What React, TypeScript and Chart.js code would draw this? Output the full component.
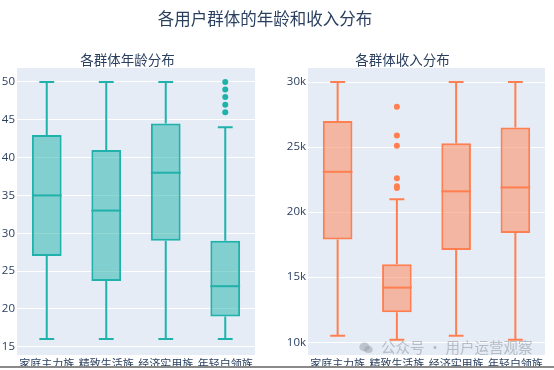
import React, { useEffect, useRef } from "react";
import { Chart, registerables } from "chart.js";

Chart.register(...registerables);

const categories = ["家庭主力族", "精致生活族", "经济实用族", "年轻白领族"];

const ageMin = [16, 16, 16, 16];
const ageQ1 = [27, 23.7, 29, 19];
const ageMedian = [35, 33, 38, 23];
const ageQ3 = [43, 41, 44.5, 29];
const ageMax = [50, 50, 50, 44];
const ageOutliers: number[][] = [[], [], [], [46, 47, 48, 49, 50]];
const ageTickValues = [15, 20, 25, 30, 35, 40, 45, 50];

const incomeMin = [10500, 10200, 10500, 10200];
const incomeQ1 = [17900, 12300, 17100, 18400];
const incomeMedian = [23100, 14200, 21600, 21900];
const incomeQ3 = [27000, 16000, 25300, 26500];
const incomeMax = [30000, 21000, 30000, 30000];
const incomeOutliers: number[][] = [[], [28100, 25900, 25100, 22600, 22000, 21850], [], []];
const incomeTickValues = [10000, 15000, 20000, 25000, 30000];

const ageRange = { min: 13.9, max: 51.85 };
const incomeRange = { min: 9020, max: 31080 };

const FONT = '"Open Sans", "Noto Sans CJK SC", sans-serif';
const TEXT = "#2a3f5f";

const boxPlugin = {
  id: "boxWhisker",
  beforeDraw(chart: any) {
    const { ctx, chartArea } = chart;
    ctx.save();
    ctx.fillStyle = "#E5ECF6";
    ctx.fillRect(chartArea.left, chartArea.top, chartArea.right - chartArea.left, chartArea.bottom - chartArea.top);
    ctx.restore();
  },
  beforeDatasetsDraw(chart: any) {
    const o = chart.options.plugins.boxWhisker;
    if (!o) return;
    const { ctx } = chart;
    const xs = chart.scales.x;
    const ys = chart.scales.y;
    const meta = chart.getDatasetMeta(0);
    ctx.save();
    ctx.strokeStyle = o.color;
    ctx.lineWidth = 2;
    o.min.forEach((_: number, i: number) => {
      const x = xs.getPixelForValue(i);
      const bw = meta.data[i].width;
      const cap = bw / 2;
      const yMin = ys.getPixelForValue(o.min[i]);
      const yMax = ys.getPixelForValue(o.max[i]);
      const yQ1 = ys.getPixelForValue(o.q1[i]);
      const yQ3 = ys.getPixelForValue(o.q3[i]);
      ctx.beginPath();
      ctx.moveTo(x, yQ3);
      ctx.lineTo(x, yMax);
      ctx.moveTo(x - cap / 2, yMax);
      ctx.lineTo(x + cap / 2, yMax);
      ctx.moveTo(x, yQ1);
      ctx.lineTo(x, yMin);
      ctx.moveTo(x - cap / 2, yMin);
      ctx.lineTo(x + cap / 2, yMin);
      ctx.stroke();
    });
    ctx.restore();
  },
  afterDatasetsDraw(chart: any) {
    const o = chart.options.plugins.boxWhisker;
    if (!o) return;
    const { ctx } = chart;
    const xs = chart.scales.x;
    const ys = chart.scales.y;
    const meta = chart.getDatasetMeta(0);
    ctx.save();
    ctx.strokeStyle = o.color;
    ctx.lineWidth = 2;
    o.median.forEach((m: number, i: number) => {
      const x = xs.getPixelForValue(i);
      const bw = meta.data[i].width;
      const y = ys.getPixelForValue(m);
      ctx.beginPath();
      ctx.moveTo(x - bw / 2, y);
      ctx.lineTo(x + bw / 2, y);
      ctx.stroke();
    });
    ctx.restore();
  },
};

function makeConfig(
  mins: number[], q1: number[], med: number[], q3: number[], maxs: number[], outliers: number[][],
  line: string, fill: string, range: { min: number; max: number }, tickValues: number[],
  yWidth: number, padLeft: number, padRight: number, fmt: (v: number) => string
): any {
  const outlierPoints: { x: string; y: number }[] = [];
  outliers.forEach((arr, i) => arr.forEach((v) => outlierPoints.push({ x: categories[i], y: v })));
  return {
    type: "bar",
    data: {
      labels: categories,
      datasets: [
        {
          type: "bar",
          data: q1.map((v, i) => [v, q3[i]]),
          backgroundColor: fill,
          borderColor: line,
          borderWidth: 2,
          borderSkipped: false,
          barPercentage: 0.5,
          categoryPercentage: 1,
        },
        {
          type: "scatter",
          data: outlierPoints,
          backgroundColor: line,
          borderWidth: 0,
          pointRadius: 3,
        },
      ],
    },
    options: {
      responsive: false,
      animation: false,
      devicePixelRatio: 1,
      layout: { padding: { top: 68, left: padLeft, right: padRight, bottom: 0 } },
      plugins: {
        legend: { display: false },
        tooltip: { enabled: false },
        boxWhisker: { min: mins, q1, median: med, q3, max: maxs, color: line },
      },
      scales: {
        x: {
          type: "category",
          offset: true,
          grid: { display: false, drawTicks: false },
          border: { display: false },
          ticks: { color: TEXT, font: { family: FONT, size: 11 }, padding: 3, maxRotation: 0, autoSkip: false },
          afterFit(scale: any) { scale.height = 15; },
        },
        y: {
          type: "linear",
          min: range.min,
          max: range.max,
          grid: { color: "#ffffff", lineWidth: 1, drawTicks: false },
          border: { display: false },
          ticks: {
            color: TEXT,
            font: { family: FONT, size: 11.5 },
            padding: 2,
            callback: (v: number) => fmt(v),
          },
          afterBuildTicks(scale: any) {
            scale.ticks = tickValues.map((v) => ({ value: v }));
          },
          afterFit(scale: any) { scale.width = yWidth; },
        },
      },
    },
    plugins: [boxPlugin],
  };
}

function BoxChart(props: { config: () => any; width: number; left: number }) {
  const ref = useRef<HTMLCanvasElement>(null);
  useEffect(() => {
    const chart = new Chart(ref.current as HTMLCanvasElement, props.config());
    return () => chart.destroy();
  }, []);
  return (
    <canvas
      ref={ref}
      width={props.width}
      height={370}
      style={{ position: "absolute", left: props.left, top: 0, width: props.width, height: 370 }}
    />
  );
}

export default function App() {
  const titleStyle = (cx: number, cy: number, size: number): React.CSSProperties => ({
    position: "absolute",
    left: cx - 150,
    width: 300,
    top: cy - size * 0.7,
    textAlign: "center",
    fontFamily: '"Noto Sans CJK SC", sans-serif',
    fontSize: size,
    lineHeight: `${size * 1.4}px`,
    color: TEXT,
    whiteSpace: "nowrap",
  });
  return (
    <div style={{ position: "fixed", left: 0, top: 0, width: 554, height: 370, background: "#fff", overflow: "hidden" }}>
      <BoxChart
        width={262}
        left={0}
        config={() =>
          makeConfig(ageMin, ageQ1, ageMedian, ageQ3, ageMax, ageOutliers,
            "#20B2AA", "rgba(32,178,170,0.5)", ageRange, ageTickValues, 17, 0, 7, (v) => String(v))
        }
      />
      <BoxChart
        width={292}
        left={262}
        config={() =>
          makeConfig(incomeMin, incomeQ1, incomeMedian, incomeQ3, incomeMax, incomeOutliers,
            "#FF7F50", "rgba(255,127,80,0.5)", incomeRange, incomeTickValues, 46, 0, 9, (v) => `${v / 1000}k`)
        }
      />
      <div style={titleStyle(265, 18.5, 16.5)}>各用户群体的年龄和收入分布</div>
      <div style={titleStyle(127.5, 59.5, 13.5)}>各群体年龄分布</div>
      <div style={titleStyle(402.5, 59.5, 13.5)}>各群体收入分布</div>
      <div style={{ position: "absolute", left: 359, top: 340, width: 14, height: 12 }}>
        <svg width="14" height="12" viewBox="0 0 14 12">
          <ellipse cx="5.5" cy="5" rx="5.2" ry="4.4" fill="rgba(150,155,165,0.5)" />
          <ellipse cx="9.5" cy="7.5" rx="4.2" ry="3.6" fill="rgba(150,155,165,0.5)" />
        </svg>
      </div>
      <div
        style={{
          position: "absolute",
          left: 381,
          top: 337,
          fontFamily: '"Noto Sans CJK SC", sans-serif',
          fontSize: 14.5,
          lineHeight: "19px",
          color: "rgba(150,155,165,0.6)",
          whiteSpace: "nowrap",
        }}
      >
        公众号 · 用户运营观察
      </div>
      <div style={{ position: "absolute", left: 0, top: 366, width: 554, height: 2, background: "#8a8a8a" }} />
      <div style={{ position: "absolute", left: 0, top: 368, width: 554, height: 2, background: "#ffffff" }} />
    </div>
  );
}
